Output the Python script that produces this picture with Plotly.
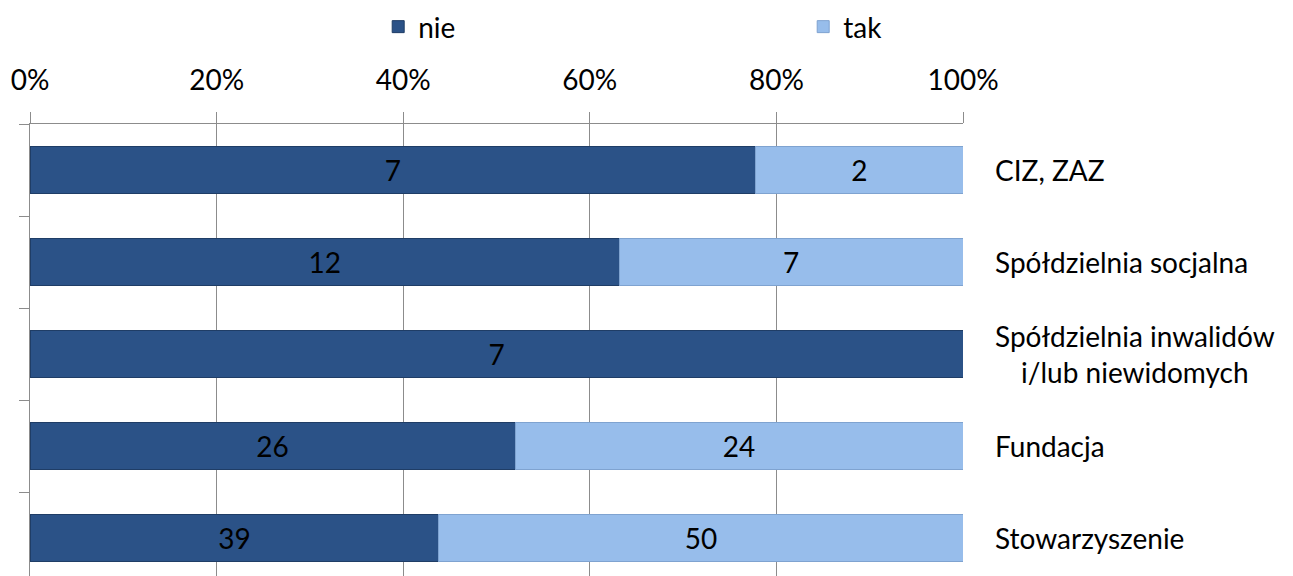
import plotly.graph_objects as go

categories = ["CIZ, ZAZ", "Spółdzielnia socjalna", "Spółdzielnia inwalidów<br>i/lub niewidomych", "Fundacja", "Stowarzyszenie"]
nie = [7, 12, 7, 26, 39]
tak = [2, 7, 0, 24, 50]
tick_vals = [0, 20, 40, 60, 80, 100]
tick_text = ["0%", "20%", "40%", "60%", "80%", "100%"]

FONT = "Lato"
FS = 28
ypos = list(range(len(categories)))

fig = go.Figure()
fig.add_trace(go.Bar(
    name="nie", y=ypos, x=nie, orientation="h",
    marker=dict(color="#2B5287", line=dict(color="#1F3D66", width=1)),
    text=[str(v) if v else "" for v in nie], textposition="inside",
    insidetextanchor="middle", textfont=dict(color="black", size=FS, family=FONT),
    width=0.51,
))
fig.add_trace(go.Bar(
    name="tak", y=ypos, x=tak, orientation="h",
    marker=dict(color="#97BDEB", line=dict(color="#7FA3D0", width=1)),
    text=[str(v) if v else "" for v in tak], textposition="inside",
    insidetextanchor="middle", textfont=dict(color="black", size=FS, family=FONT),
    width=0.51,
))

for i, c in enumerate(categories):
    fig.add_annotation(x=1, xref="paper", xshift=30, y=i, yref="y", text=c,
                       showarrow=False, xanchor="left", align="center",
                       font=dict(size=FS, color="black", family=FONT))

fig.update_layout(
    width=1293, height=576,
    margin=dict(l=22, r=338, t=116, b=0, autoexpand=False),
    barmode="stack", barnorm="percent",
    plot_bgcolor="white", paper_bgcolor="white",
    font=dict(family=FONT, size=FS, color="black"),
    showlegend=True,
    legend=dict(orientation="h", x=0.615, xanchor="center", xref="container",
                y=1.211, yanchor="middle", entrywidth=380, entrywidthmode="pixels",
                traceorder="normal",
                font=dict(size=FS, family=FONT), itemwidth=30),
    uniformtext=dict(mode="show", minsize=10),
)
fig.update_xaxes(side="top", range=[0, 100], tickvals=tick_vals, ticktext=tick_text,
                 showgrid=True, gridcolor="#8C8C8C", gridwidth=1,
                 ticks="outside", ticklen=11, tickcolor="#8C8C8C",
                 showline=True, linecolor="#8C8C8C", linewidth=1,
                 zeroline=False, tickfont=dict(size=FS, family=FONT),
                 ticklabelstandoff=11, automargin=False)
fig.update_yaxes(range=[4.5, -0.5], tickvals=[-0.5, 0.5, 1.5, 2.5, 3.5, 4.5],
                 showticklabels=False, ticks="outside", ticklen=10, tickcolor="#8C8C8C",
                 showline=True, linecolor="#8C8C8C", linewidth=1,
                 showgrid=False, zeroline=False, automargin=False)

fig.write_html("out.html")
